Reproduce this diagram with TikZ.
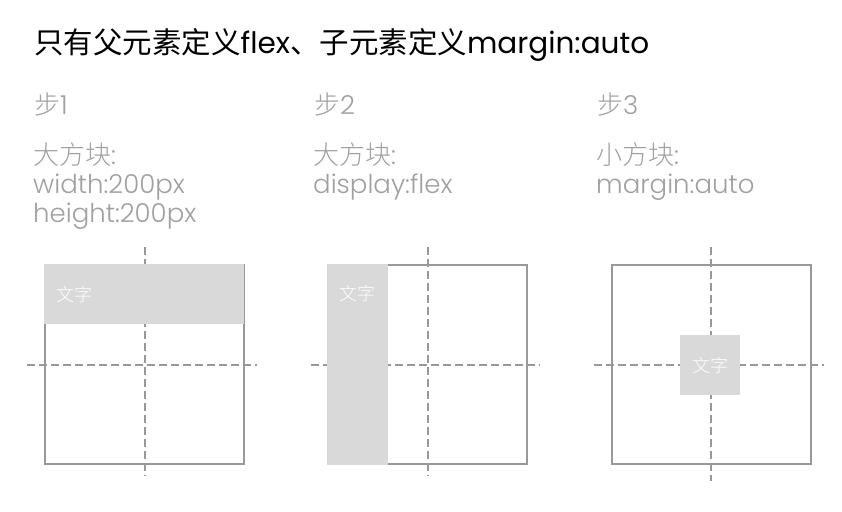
\documentclass[tikz,border=0pt]{standalone}
\usepackage{fontspec}
\setmainfont{Poppins}
\newfontfamily\thin{Poppins Light}
\newfontfamily\cjk{Noto Sans CJK SC}
\newfontfamily\cjkthin{Noto Sans CJK SC Light}
\usetikzlibrary{positioning}
\definecolor{linegray}{HTML}{999999}
\definecolor{blockgray}{HTML}{D9D9D9}
\definecolor{txtgray}{HTML}{A0A0A0}
\newcommand{\zh}[1]{{\cjk #1}}
\newcommand{\zhl}[1]{{\cjkthin #1}}

\begin{document}
\begin{tikzpicture}[x=1pt, y=-1pt,
      outer/.style={draw=linegray, line width=2pt, minimum size=199pt,
                    inner sep=0pt},
      guide/.style={draw=linegray, line width=2pt, dash pattern=on 8pt off 4pt},
      block/.style={fill=blockgray, inner sep=0pt, anchor=north west},
      blocktxt/.style={text=white, font=\cjkthin\fontsize{18}{20}\selectfont,
                       inner sep=0pt},
      title/.style={anchor=west, inner sep=0pt,
                    font=\fontsize{29.5}{34}\selectfont},
      stepname/.style={anchor=west, inner sep=0pt, text=txtgray,
                       font=\thin\fontsize{26}{29}\selectfont},
      desc/.style={anchor=north west, inner sep=0pt, text=txtgray, align=left,
                   font=\thin\fontsize{26}{29}\selectfont}
    ]
    \useasboundingbox (0,0) rectangle (842,511);

    \node[title] (ttl) at (34,45)
      {\zh{只有父元素定义}flex\zh{、子元素定义}margin:auto};

    \node[stepname] (s1) at (34,105) {\zhl{步}1};
    \node[stepname] (s2) at (314,105) {\zhl{步}2};
    \node[stepname] (s3) at (597,105) {\zhl{步}3};

    \node[desc] (d1) at (33,143) {\zhl{大方块}:\\width:200px\\height:200px};
    \node[desc] (d2) at (313,143) {\zhl{大方块}:\\display:flex};
    \node[desc] (d3) at (596,143) {\zhl{小方块}:\\margin:auto};

    % step 1
    \node[outer] (b1) at (144.5,364.5) {};
    \draw[guide] ([yshift=17pt]b1.north) -- ([yshift=-11pt]b1.south);
    \draw[guide] ([xshift=-17pt]b1.west) -- ([xshift=12pt]b1.east);
    \node[block, minimum width=200pt, minimum height=60pt] (k1) at (44,264) {};
    \node[blocktxt, anchor=west] (t1) at ([xshift=12pt]k1.west) {文字};

    % step 2
    \node[outer] (b2) at (427.5,364.5) {};
    \draw[guide] ([yshift=17pt]b2.north) -- ([yshift=-11pt]b2.south);
    \draw[guide] ([xshift=-16pt]b2.west) -- ([xshift=12pt]b2.east);
    \node[block, minimum width=61pt, minimum height=201pt] (k2) at (327,264) {};
    \node[blocktxt] (t2) at ([yshift=-30pt]k2.north) {文字};

    % step 3
    \node[outer] (b3) at (711,364.5) {};
    \draw[guide] ([yshift=17pt]b3.north) -- ([yshift=-16pt]b3.south);
    \draw[guide] ([xshift=-17pt]b3.west) -- ([xshift=12pt]b3.east);
    \node[block, minimum size=60pt] (k3) at (680,335) {};
    \node[blocktxt] (t3) at (k3.center) {文字};
  \end{tikzpicture}
\end{document}
